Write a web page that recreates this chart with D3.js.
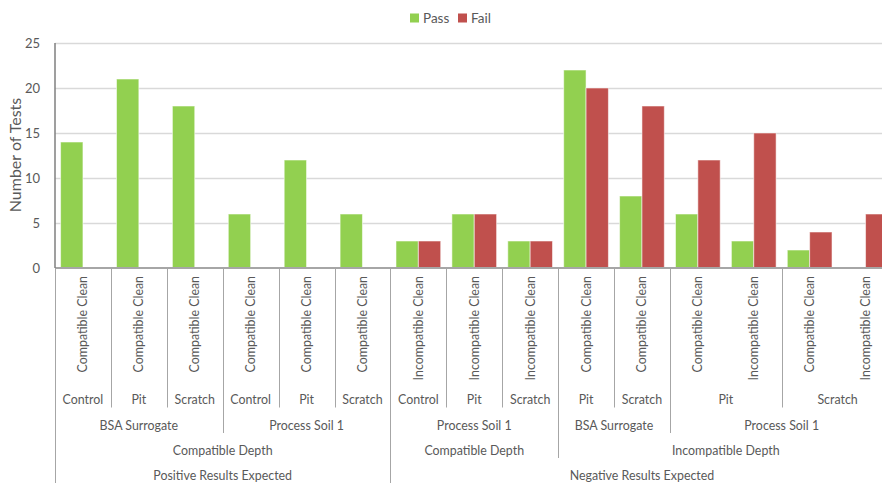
<html>
<head>
<meta charset="utf-8" />
<title>Number of Tests</title>
<script src="https://cdn.jsdelivr.net/npm/d3@7/dist/d3.min.js"></script>
<style>
  body { margin: 0; background: #fff; }
  text { font-family: Lato, "Open Sans", sans-serif; fill: #595959; }
</style>
</head>
<body>
<script>
// data, one entry per category (left to right)
var conditions = ["Compatible Clean","Compatible Clean","Compatible Clean","Compatible Clean","Compatible Clean","Compatible Clean",
  "Incompatible Clean","Incompatible Clean","Incompatible Clean",
  "Compatible Clean","Compatible Clean","Compatible Clean","Incompatible Clean","Compatible Clean","Incompatible Clean"];
var surfaces = ["Control","Pit","Scratch","Control","Pit","Scratch","Control","Pit","Scratch","Pit","Scratch","Pit","Pit","Scratch","Scratch"];
var soils = ["BSA Surrogate","BSA Surrogate","BSA Surrogate","Process Soil 1","Process Soil 1","Process Soil 1",
  "Process Soil 1","Process Soil 1","Process Soil 1","BSA Surrogate","BSA Surrogate",
  "Process Soil 1","Process Soil 1","Process Soil 1","Process Soil 1"];
var depths = ["Compatible Depth","Compatible Depth","Compatible Depth","Compatible Depth","Compatible Depth","Compatible Depth",
  "Compatible Depth","Compatible Depth","Compatible Depth",
  "Incompatible Depth","Incompatible Depth","Incompatible Depth","Incompatible Depth","Incompatible Depth","Incompatible Depth"];
var expectations = ["Positive Results Expected","Positive Results Expected","Positive Results Expected","Positive Results Expected","Positive Results Expected","Positive Results Expected",
  "Negative Results Expected","Negative Results Expected","Negative Results Expected","Negative Results Expected","Negative Results Expected",
  "Negative Results Expected","Negative Results Expected","Negative Results Expected","Negative Results Expected"];

var passVals = [14,21,18,6,12,6,3,6,3,22,8,6,3,2,0];
var failVals = [0,0,0,0,0,0,3,6,3,20,18,12,15,4,6];

var seriesNames = ["Pass","Fail"];
var seriesColors = ["#92D050","#C0504D"];
var yTicks = [0,5,10,15,20,25];

var W = 882, H = 483;
var plotLeft = 55, plotTop = 43, plotBottom = 268;
var catW = 55.9;
var catFont = "12.4px";

var svg = d3.select("body").append("svg").attr("width", W).attr("height", H);

var idx = d3.range(passVals.length);
var x0 = d3.scaleBand().domain(idx).range([plotLeft, plotLeft + catW * idx.length]).padding(0);
var x1 = d3.scaleBand().domain(seriesNames).range([catW * 0.1, catW * 0.9]).padding(0);
var y = d3.scaleLinear().domain([0, 25]).range([plotBottom, plotTop]);

// gridlines
svg.append("g").selectAll("line").data(yTicks.slice(1)).enter().append("line")
  .attr("x1", plotLeft).attr("x2", W)
  .attr("y1", d => Math.round(y(d)) + 0.5).attr("y2", d => Math.round(y(d)) + 0.5)
  .attr("stroke", "#D9D9D9").attr("stroke-width", 1.3);

// y labels
svg.append("g").selectAll("text").data(yTicks).enter().append("text")
  .attr("x", 40).attr("y", d => y(d) + 4.5)
  .attr("text-anchor", "end").attr("font-size", "13px")
  .text(d => d);

svg.append("text")
  .attr("transform", "translate(21,155) rotate(-90)")
  .attr("text-anchor", "middle").attr("font-size", "16px")
  .text("Number of Tests");

// bars
var rows = idx.map(i => [{s: "Pass", v: passVals[i]}, {s: "Fail", v: failVals[i]}]);
var groups = svg.append("g").selectAll("g").data(rows).enter().append("g")
  .attr("transform", (d, i) => "translate(" + x0(i) + ",0)");
groups.selectAll("rect").data(d => d.filter(e => e.v > 0)).enter().append("rect")
  .attr("x", d => x1(d.s))
  .attr("width", x1.bandwidth())
  .attr("y", d => y(d.v))
  .attr("height", d => y(0) - y(d.v))
  .attr("fill", d => seriesColors[seriesNames.indexOf(d.s)])
  .attr("stroke", "#fff").attr("stroke-opacity", 0.55).attr("stroke-width", 1);

// axis lines
svg.append("line").attr("x1", plotLeft).attr("x2", W).attr("y1", plotBottom).attr("y2", plotBottom)
  .attr("stroke", "#A6A6A6").attr("stroke-width", 2);
svg.append("line").attr("x1", plotLeft).attr("x2", plotLeft).attr("y1", plotTop).attr("y2", plotBottom)
  .attr("stroke", "#7F7F7F").attr("stroke-width", 1.5);

// multi-level category labels
var levels = [surfaces, soils, depths, expectations];
var rowBottom = [407.5, 433, 458, 483];
var rowBase = [404, 429.5, 454.5, 480];

// level-1 rotated labels
svg.append("g").selectAll("text").data(idx).enter().append("text")
  .attr("transform", i => "translate(" + (x0(i) + catW / 2 + 4.5) + ",276) rotate(-90)")
  .attr("text-anchor", "end").attr("font-size", catFont)
  .text(i => conditions[i]);

// key for a category at a level: path from outermost down to that level
function key(i, L) {
  var k = [];
  for (var j = levels.length - 1; j >= L; j--) k.push(levels[j][i]);
  return k.join("|");
}

levels.forEach(function(arr, L) {
  var spans = [];
  idx.forEach(function(i) {
    var k = key(i, L);
    if (spans.length && spans[spans.length - 1].k == k) spans[spans.length - 1].end = i;
    else spans.push({k: k, start: i, end: i, label: arr[i]});
  });
  svg.append("g").selectAll("text").data(spans).enter().append("text")
    .attr("x", d => (x0(d.start) + x0(d.end) + catW) / 2)
    .attr("y", rowBase[L])
    .attr("text-anchor", "middle").attr("font-size", catFont)
    .text(d => d.label);
});

// separators between categories: drawn down to the deepest level that changes
var seps = [{x: plotLeft, y2: H}];
idx.slice(1).forEach(function(i) {
  var deepest = -1;
  for (var L = levels.length - 1; L >= 0; L--) {
    if (key(i, L) != key(i - 1, L)) { deepest = L; break; }
  }
  if (deepest >= 0) seps.push({x: x0(i), y2: rowBottom[deepest]});
});
svg.append("g").selectAll("line").data(seps).enter().append("line")
  .attr("x1", d => Math.round(d.x) + 0.5).attr("x2", d => Math.round(d.x) + 0.5)
  .attr("y1", plotBottom + 1).attr("y2", d => d.y2)
  .attr("stroke", "#A6A6A6").attr("stroke-width", 1);

// legend
var legend = svg.append("g");
var lx = [410, 458];
seriesNames.forEach(function(s, i) {
  legend.append("rect").attr("x", lx[i]).attr("y", 13.5).attr("width", 9).attr("height", 9)
    .attr("fill", seriesColors[i]);
  legend.append("text").attr("x", lx[i] + 13).attr("y", 23).attr("font-size", "13.5px").text(s);
});
</script>
</body>
</html>
